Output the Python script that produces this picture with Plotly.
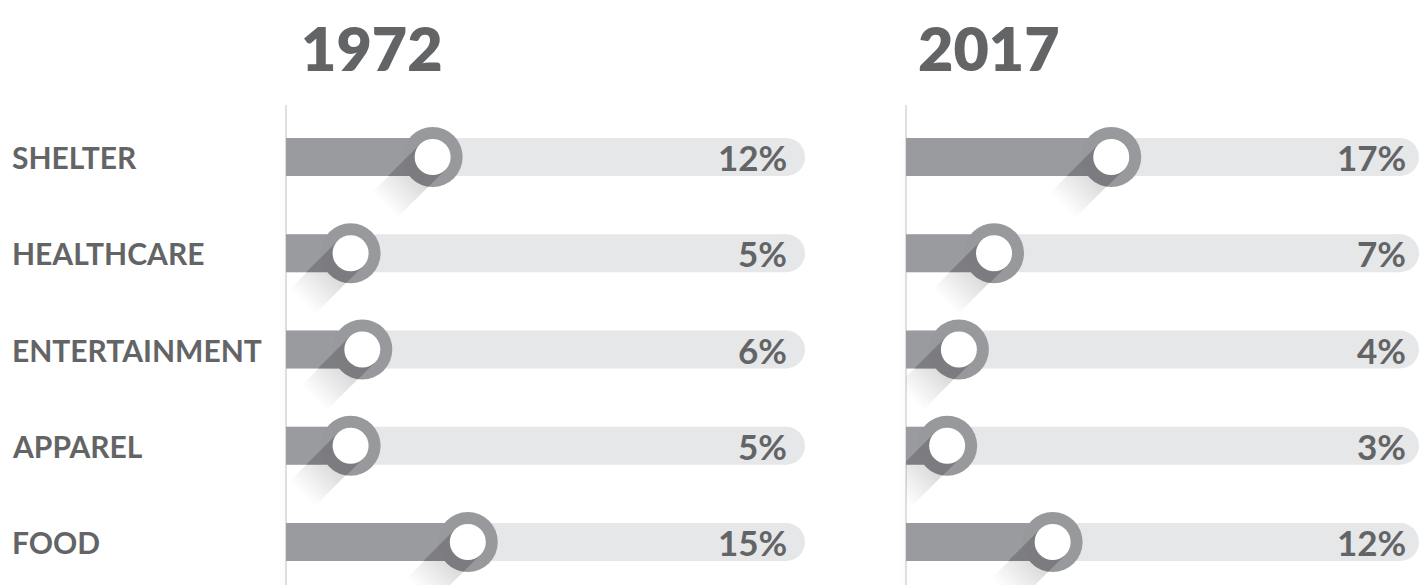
import math
import plotly.graph_objects as go

# ---------------- data ----------------
categories = ["SHELTER", "HEALTHCARE", "ENTERTAINMENT", "APPAREL", "FOOD"]
years = ["1972", "2017"]
values_1972 = [12, 5, 6, 5, 15]
values_2017 = [17, 7, 4, 3, 12]
series = [values_1972, values_2017]

# ---------------- layout constants ----------------
W, H = 1419, 585
ROW_TOP_PX = 157.0
ROW_STEP_PX = 96.25
PX_PER_UNIT = 11.72
ORIGIN_PX = 6.0
PANELS_PX = [(286, 805), (906, 1419)]
TITLE_X_PX = [299, 916]
LABEL_SHIFT = [-16, -11]

TEXT = "#636466"
BAR = "#9a9b9f"
TRACK = "#e6e7e8"
RING = "#98999c"
BAR_H_PX = 38
RING_D = 60
HOLE_D = 36

FONT = "Lato"

yr = [(H - ROW_TOP_PX) / ROW_STEP_PX, -ROW_TOP_PX / ROW_STEP_PX]


def clip(poly, a, b, c):
    """keep a*x + b*y <= c"""
    out = []
    n = len(poly)
    for k in range(n):
        p, q = poly[k], poly[(k + 1) % n]
        fp = a * p[0] + b * p[1] - c
        fq = a * q[0] + b * q[1] - c
        if fp <= 0:
            out.append(p)
        if (fp <= 0) != (fq <= 0):
            t = fp / (fp - fq)
            out.append((p[0] + t * (q[0] - p[0]), p[1] + t * (q[1] - p[1])))
    return out


R = HOLE_D / 2
BW = R * math.sqrt(2)
half_bar = BAR_H_PX / 2


def band(poly):
    poly = clip(poly, 1, 1, BW)
    poly = clip(poly, -1, -1, BW)
    poly = clip(poly, 1, -1, 0)
    return poly


fig = go.Figure()
annotations = []
shapes = []

for p, (vals, year) in enumerate(zip(series, years)):
    x0px, x1px = PANELS_PX[p]
    width_px = x1px - x0px
    xmin = -ORIGIN_PX / PX_PER_UNIT
    xmax = (width_px - ORIGIN_PX) / PX_PER_UNIT
    xend = xmax - (BAR_H_PX / 2) / PX_PER_UNIT
    xa = "x" if p == 0 else "x2"
    ya = "y"
    rows = list(range(len(categories)))
    bw = BAR_H_PX / ROW_STEP_PX

    # track
    fig.add_trace(go.Bar(orientation="h", y=rows, x=[xend - xmin] * len(rows), base=xmin,
                         width=bw, marker=dict(color=TRACK, line=dict(width=0)),
                         xaxis=xa, yaxis=ya, hoverinfo="skip", showlegend=False))
    # value bars
    fig.add_trace(go.Bar(orientation="h", y=rows, x=[v - xmin for v in vals], base=xmin,
                         width=bw, marker=dict(color=BAR, line=dict(width=0)),
                         xaxis=xa, yaxis=ya, hoverinfo="skip", showlegend=False))
    # track round cap
    fig.add_trace(go.Scatter(x=[xend] * len(rows), y=rows, mode="markers",
                             marker=dict(size=BAR_H_PX, color=TRACK, line=dict(width=0)),
                             xaxis=xa, yaxis=ya, hoverinfo="skip", showlegend=False))

    def to_data(poly, v, i):
        xs = [v + px / PX_PER_UNIT for px, _ in poly] + [v + poly[0][0] / PX_PER_UNIT, None]
        ys = [i + py / ROW_STEP_PX for _, py in poly] + [i + poly[0][1] / ROW_STEP_PX, None]
        return xs, ys

    # faded soft shadow below the bar
    n_layers = 18
    for k in range(n_layers):
        s = 26 + (68 - 26) * (k + 1) / n_layers
        X, Y = [], []
        for i, v in enumerate(vals):
            poly = [(-300, half_bar), (300, half_bar), (300, 300), (-300, 300)]
            poly = band(poly)
            poly = clip(poly, -1, 1, s * math.sqrt(2))
            if len(poly) >= 3:
                xs, ys = to_data(poly, v, i)
                X += xs
                Y += ys
        fig.add_trace(go.Scatter(x=X, y=Y, mode="lines", fill="toself",
                                 fillcolor="rgba(0,0,0,0.009)", line=dict(width=0),
                                 xaxis=xa, yaxis=ya, hoverinfo="skip", showlegend=False))

    # ring
    fig.add_trace(go.Scatter(x=vals, y=rows, mode="markers",
                             marker=dict(size=RING_D, color=RING, line=dict(width=0)),
                             xaxis=xa, yaxis=ya, hoverinfo="skip", showlegend=False))

    # dark long shadow over bar and ring
    X, Y = [], []
    for i, v in enumerate(vals):
        left_rel = -(ORIGIN_PX + v * PX_PER_UNIT)
        rect = [(left_rel, -half_bar), (60, -half_bar), (60, half_bar), (left_rel, half_bar)]
        poly = band(rect)
        if len(poly) >= 3:
            xs, ys = to_data(poly, v, i)
            X += xs
            Y += ys
        circ = [((RING_D / 2) * math.cos(2 * math.pi * t / 96),
                 (RING_D / 2) * math.sin(2 * math.pi * t / 96)) for t in range(96)]
        poly = band(clip(circ, 0, -1, -half_bar))
        if len(poly) >= 3:
            xs, ys = to_data(poly, v, i)
            X += xs
            Y += ys
    fig.add_trace(go.Scatter(x=X, y=Y, mode="lines", fill="toself",
                             fillcolor="rgba(40,40,45,0.25)", line=dict(width=0),
                             xaxis=xa, yaxis=ya, hoverinfo="skip", showlegend=False))

    # white hole
    fig.add_trace(go.Scatter(x=vals, y=rows, mode="markers",
                             marker=dict(size=HOLE_D, color="white", line=dict(width=0)),
                             xaxis=xa, yaxis=ya, hoverinfo="skip", showlegend=False))

    # percent labels
    for i, v in enumerate(vals):
        annotations.append(dict(x=xmax, y=i, xref=xa, yref=ya, text=f"{v}%",
                                showarrow=False, xanchor="right", yanchor="middle",
                                xshift=LABEL_SHIFT[p],
                                font=dict(family=FONT, size=35, color=TEXT, weight=700)))

    # title
    annotations.append(dict(x=TITLE_X_PX[p] / W, y=1 - 47 / H, xref="paper", yref="paper",
                            text=year, showarrow=False, xanchor="left", yanchor="middle",
                            font=dict(family=FONT, size=61, color=TEXT, weight=800)))

    # panel edge line with a faint shadow to its left
    for g in range(8):
        shapes.append(dict(type="line", xref="paper", yref="paper",
                           x0=(x0px - 1 - g) / W, x1=(x0px - 1 - g) / W,
                           y0=0, y1=1 - 140 / H,
                           line=dict(color=f"rgba(0,0,0,{0.018 * (8 - g) / 8:.4f})", width=1),
                           layer="below"))
    shapes.append(dict(type="line", xref="paper", yref="paper",
                       x0=x0px / W, x1=x0px / W, y0=0, y1=1 - 105 / H,
                       line=dict(color="#d4d5d7", width=1.5), layer="below"))

# category labels
for i, c in enumerate(categories):
    annotations.append(dict(x=10 / W, y=i, xref="paper", yref="y", text=c, showarrow=False,
                            xanchor="left", yanchor="middle",
                            font=dict(family=FONT, size=30, color=TEXT, weight=700)))

x0a, x1a = PANELS_PX[0]
x0b, x1b = PANELS_PX[1]
fig.update_layout(
    width=W, height=H,
    margin=dict(l=0, r=0, t=0, b=0),
    paper_bgcolor="white", plot_bgcolor="white",
    barmode="overlay",
    hovermode=False,
    showlegend=False,
    xaxis=dict(domain=[x0a / W, x1a / W], range=[-ORIGIN_PX / PX_PER_UNIT, (x1a - x0a - ORIGIN_PX) / PX_PER_UNIT],
               visible=False, fixedrange=True),
    xaxis2=dict(domain=[x0b / W, x1b / W], range=[-ORIGIN_PX / PX_PER_UNIT, (x1b - x0b - ORIGIN_PX) / PX_PER_UNIT],
                visible=False, anchor="y", fixedrange=True),
    yaxis=dict(domain=[0, 1], range=yr, visible=False, fixedrange=True),
    annotations=annotations,
    shapes=shapes,
)

fig.write_html("out.html", config={"displayModeBar": False},
               post_script="document.body.style.margin='0';document.body.style.overflow='hidden';")
